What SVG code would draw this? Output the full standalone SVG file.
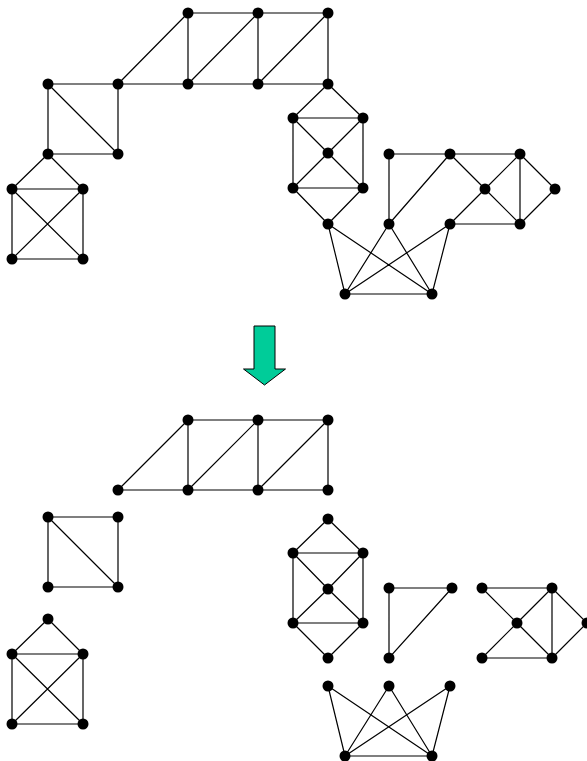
<svg xmlns="http://www.w3.org/2000/svg" width="587" height="761" viewBox="0 0 587 761">
  <defs>
    <style>
      .e { stroke: #000; stroke-width: 1.2; fill: none; }
      .n { fill: #000; }
      .arrow { fill: #00CC99; stroke: #000; stroke-width: 1; }
    </style>
    <circle id="dot" r="5.5" class="n"/>
  </defs>
  <rect width="587" height="761" fill="#fff"/>

  <!-- ===== Original graph ===== -->
  <g id="connectors-top">
    <path class="e" d="
      M48,84 L118,84 M48,84 L48,154 M48,84 L118,154 M118,84 L118,154 M48,154 L118,154
      M118,84 L188,13 M118,84 L188,84 M188,13 L258,13 L328,13 M188,13 L188,84 M188,84 L258,13
      M258,13 L258,84 M258,84 L328,13 M328,13 L328,84 M188,84 L258,84 L328,84
      M48,154 L12,189 M48,154 L83,189
      M12,189 L83,189 M12,189 L12,259 M83,189 L83,259 M12,259 L83,259 M12,189 L83,259 M83,189 L12,259
      M328,84 L293,118 M328,84 L363,118 M293,118 L363,118 M293,118 L293,188 M363,118 L363,188
      M293,118 L328,153 M363,118 L328,153 M328,153 L293,188 M328,153 L363,188 M293,188 L363,188
      M293,188 L328,224 M363,188 L328,224
      M389,154 L450,154 L520,154 M389,154 L389,224 M389,224 L450,154 M450,154 L485,189 M485,189 L520,154
      M485,189 L520,224 M485,189 L450,224 M450,224 L520,224 M520,154 L520,224 M520,154 L555,189 M555,189 L520,224
      M328,224 L345,294 M328,224 L432,294 M389,224 L345,294 M389,224 L432,294
      M450,224 L345,294 M450,224 L432,294 M345,294 L432,294"/>
  </g>
  <g id="nodes-top">
    <g id="t1"><use href="#dot" x="188" y="13"/></g>
    <g id="t2"><use href="#dot" x="258" y="13"/></g>
    <g id="t3"><use href="#dot" x="328" y="13"/></g>
    <g id="t4"><use href="#dot" x="48" y="84"/></g>
    <g id="t5"><use href="#dot" x="118" y="84"/></g>
    <g id="t6"><use href="#dot" x="188" y="84"/></g>
    <g id="t7"><use href="#dot" x="258" y="84"/></g>
    <g id="t8"><use href="#dot" x="328" y="84"/></g>
    <g id="t9"><use href="#dot" x="48" y="154"/></g>
    <g id="t10"><use href="#dot" x="118" y="154"/></g>
    <g id="t11"><use href="#dot" x="12" y="189"/></g>
    <g id="t12"><use href="#dot" x="83" y="189"/></g>
    <g id="t13"><use href="#dot" x="12" y="259"/></g>
    <g id="t14"><use href="#dot" x="83" y="259"/></g>
    <g id="t15"><use href="#dot" x="293" y="118"/></g>
    <g id="t16"><use href="#dot" x="363" y="118"/></g>
    <g id="t17"><use href="#dot" x="328" y="153"/></g>
    <g id="t18"><use href="#dot" x="293" y="188"/></g>
    <g id="t19"><use href="#dot" x="363" y="188"/></g>
    <g id="t20"><use href="#dot" x="328" y="224"/></g>
    <g id="t21"><use href="#dot" x="389" y="154"/></g>
    <g id="t22"><use href="#dot" x="450" y="154"/></g>
    <g id="t23"><use href="#dot" x="520" y="154"/></g>
    <g id="t24"><use href="#dot" x="485" y="189"/></g>
    <g id="t25"><use href="#dot" x="555" y="189"/></g>
    <g id="t26"><use href="#dot" x="389" y="224"/></g>
    <g id="t27"><use href="#dot" x="450" y="224"/></g>
    <g id="t28"><use href="#dot" x="520" y="224"/></g>
    <g id="t29"><use href="#dot" x="345" y="294"/></g>
    <g id="t30"><use href="#dot" x="432" y="294"/></g>
  </g>

  <!-- ===== Arrow ===== -->
  <g id="arrow">
    <polygon class="arrow" points="254,326 275,326 275,369 285.5,369 264.5,385 243.5,369 254,369"/>
  </g>

  <!-- ===== Decomposed components ===== -->
  <g id="connectors-bottom">
    <path class="e" d="
      M118,490 L188,420 M118,490 L188,490 L258,490 L328,490 M188,420 L258,420 L328,420
      M188,420 L188,490 M188,490 L258,420 M258,420 L258,490 M258,490 L328,420 M328,420 L328,490
      M48,517 L118,517 L118,587 L48,587 Z M48,517 L118,587
      M48,619 L12,654 M48,619 L83,654 M12,654 L83,654 M12,654 L12,724 M83,654 L83,724 M12,724 L83,724
      M12,654 L83,724 M83,654 L12,724
      M328,519 L293,553 M328,519 L363,553 M293,553 L363,553 M293,553 L293,623 M363,553 L363,623
      M293,553 L328,589 M363,553 L328,589 M328,589 L293,623 M328,589 L363,623 M293,623 L363,623
      M293,623 L328,658 M363,623 L328,658
      M389,588 L452,588 L389,658 Z
      M482,588 L552,588 M482,588 L517,623 M517,623 L552,588 M517,623 L482,658 M517,623 L552,658
      M482,658 L552,658 M552,588 L552,658 M552,588 L587,623 M587,623 L552,658
      M328,686 L345,756 M328,686 L432,756 M389,686 L345,756 M389,686 L432,756
      M450,686 L345,756 M450,686 L432,756 M345,756 L432,756"/>
  </g>
  <g id="nodes-bottom">
    <g id="b1"><use href="#dot" x="188" y="420"/></g>
    <g id="b2"><use href="#dot" x="258" y="420"/></g>
    <g id="b3"><use href="#dot" x="328" y="420"/></g>
    <g id="b4"><use href="#dot" x="118" y="490"/></g>
    <g id="b5"><use href="#dot" x="188" y="490"/></g>
    <g id="b6"><use href="#dot" x="258" y="490"/></g>
    <g id="b7"><use href="#dot" x="328" y="490"/></g>
    <g id="b8"><use href="#dot" x="48" y="517"/></g>
    <g id="b9"><use href="#dot" x="118" y="517"/></g>
    <g id="b10"><use href="#dot" x="48" y="587"/></g>
    <g id="b11"><use href="#dot" x="118" y="587"/></g>
    <g id="b12"><use href="#dot" x="48" y="619"/></g>
    <g id="b13"><use href="#dot" x="12" y="654"/></g>
    <g id="b14"><use href="#dot" x="83" y="654"/></g>
    <g id="b15"><use href="#dot" x="12" y="724"/></g>
    <g id="b16"><use href="#dot" x="83" y="724"/></g>
    <g id="b17"><use href="#dot" x="328" y="519"/></g>
    <g id="b18"><use href="#dot" x="293" y="553"/></g>
    <g id="b19"><use href="#dot" x="363" y="553"/></g>
    <g id="b20"><use href="#dot" x="328" y="589"/></g>
    <g id="b21"><use href="#dot" x="293" y="623"/></g>
    <g id="b22"><use href="#dot" x="363" y="623"/></g>
    <g id="b23"><use href="#dot" x="328" y="658"/></g>
    <g id="b24"><use href="#dot" x="389" y="588"/></g>
    <g id="b25"><use href="#dot" x="452" y="588"/></g>
    <g id="b26"><use href="#dot" x="389" y="658"/></g>
    <g id="b27"><use href="#dot" x="482" y="588"/></g>
    <g id="b28"><use href="#dot" x="552" y="588"/></g>
    <g id="b29"><use href="#dot" x="517" y="623"/></g>
    <g id="b30"><use href="#dot" x="587" y="623"/></g>
    <g id="b31"><use href="#dot" x="482" y="658"/></g>
    <g id="b32"><use href="#dot" x="552" y="658"/></g>
    <g id="b33"><use href="#dot" x="328" y="686"/></g>
    <g id="b34"><use href="#dot" x="389" y="686"/></g>
    <g id="b35"><use href="#dot" x="450" y="686"/></g>
    <g id="b36"><use href="#dot" x="345" y="756"/></g>
    <g id="b37"><use href="#dot" x="432" y="756"/></g>
  </g>
</svg>
